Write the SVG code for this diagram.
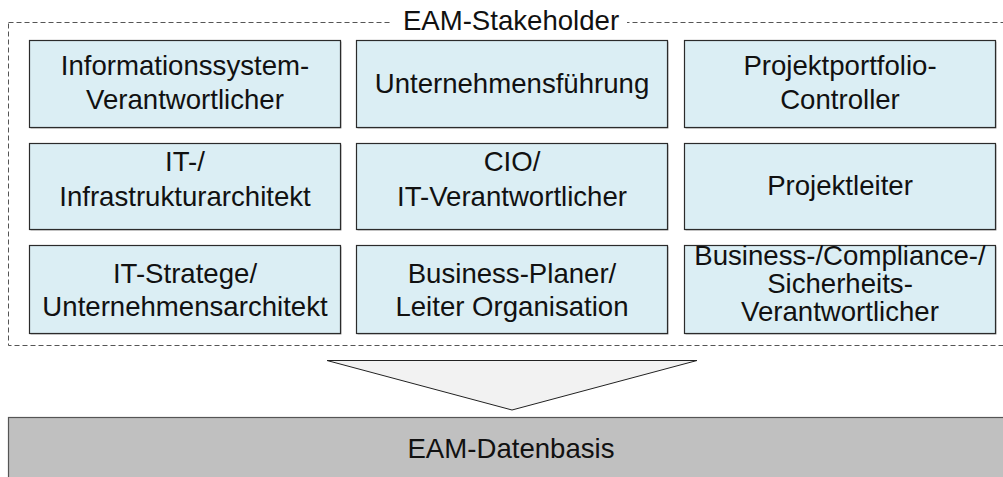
<svg xmlns="http://www.w3.org/2000/svg" width="1003" height="477" viewBox="0 0 1003 477">
<style>
  .box { fill: #dbeef4; stroke: #2b2b2b; stroke-width: 1.2; }
  .shadow { fill: #a6a6a6; }
  .lbl { font-family: "Liberation Sans", Arial, sans-serif; font-size: 27.6px; fill: #111; text-anchor: middle; }
  .frame { fill: none; stroke: #555; stroke-width: 1; stroke-dasharray: 5 3; }
</style>
<rect width="1003" height="477" fill="#ffffff"/>
<g id="container">
  <rect class="frame" x="8.5" y="22.5" width="1004" height="323"/>
  <rect x="390" y="12" width="237" height="20" fill="#ffffff"/>
  <text class="lbl" x="511" y="29.5">EAM-Stakeholder</text>
</g>
<g id="n1">
  <rect class="shadow" x="30.5" y="41.5" width="311" height="87"/>
  <rect class="box" x="29.5" y="40.5" width="311" height="87"/>
  <text class="lbl" x="185" y="75">Informationssystem-</text>
  <text class="lbl" x="185" y="109">Verantwortlicher</text>
</g>
<g id="n2">
  <rect class="shadow" x="357.5" y="41.5" width="311" height="87"/>
  <rect class="box" x="356.5" y="40.5" width="311" height="87"/>
  <text class="lbl" x="512" y="93">Unternehmensführung</text>
</g>
<g id="n3">
  <rect class="shadow" x="685.5" y="41.5" width="311" height="87"/>
  <rect class="box" x="684.5" y="40.5" width="311" height="87"/>
  <text class="lbl" x="840" y="75">Projektportfolio-</text>
  <text class="lbl" x="840" y="109">Controller</text>
</g>
<g id="n4">
  <rect class="shadow" x="30.5" y="144.5" width="311" height="86"/>
  <rect class="box" x="29.5" y="143.5" width="311" height="86"/>
  <text class="lbl" x="185" y="171">IT-/</text>
  <text class="lbl" x="185" y="206">Infrastrukturarchitekt</text>
</g>
<g id="n5">
  <rect class="shadow" x="357.5" y="144.5" width="311" height="86"/>
  <rect class="box" x="356.5" y="143.5" width="311" height="86"/>
  <text class="lbl" x="512" y="171">CIO/</text>
  <text class="lbl" x="512" y="206">IT-Verantwortlicher</text>
</g>
<g id="n6">
  <rect class="shadow" x="685.5" y="144.5" width="311" height="86"/>
  <rect class="box" x="684.5" y="143.5" width="311" height="86"/>
  <text class="lbl" x="840" y="195">Projektleiter</text>
</g>
<g id="n7">
  <rect class="shadow" x="30.5" y="246.5" width="311" height="88"/>
  <rect class="box" x="29.5" y="245.5" width="311" height="88"/>
  <text class="lbl" x="185" y="283">IT-Stratege/</text>
  <text class="lbl" x="185" y="316">Unternehmensarchitekt</text>
</g>
<g id="n8">
  <rect class="shadow" x="357.5" y="246.5" width="311" height="88"/>
  <rect class="box" x="356.5" y="245.5" width="311" height="88"/>
  <text class="lbl" x="512" y="283">Business-Planer/</text>
  <text class="lbl" x="512" y="316">Leiter Organisation</text>
</g>
<g id="n9">
  <rect class="shadow" x="685.5" y="246.5" width="311" height="88"/>
  <rect class="box" x="684.5" y="245.5" width="311" height="88"/>
  <text class="lbl" x="840" y="265">Business-/Compliance-/</text>
  <text class="lbl" x="840" y="293">Sicherheits-</text>
  <text class="lbl" x="840" y="321">Verantwortlicher</text>
</g>
<g id="connectors">
  <polygon points="327,360.5 697,360.5 512,410" fill="#f2f2f2" stroke="#222" stroke-width="1"/>
</g>
<g id="datenbasis">
  <rect x="8.5" y="417.5" width="1004" height="80" fill="#c0c0c0" stroke="#555" stroke-width="1.2"/>
  <text class="lbl" x="511" y="458">EAM-Datenbasis</text>
</g>
</svg>
